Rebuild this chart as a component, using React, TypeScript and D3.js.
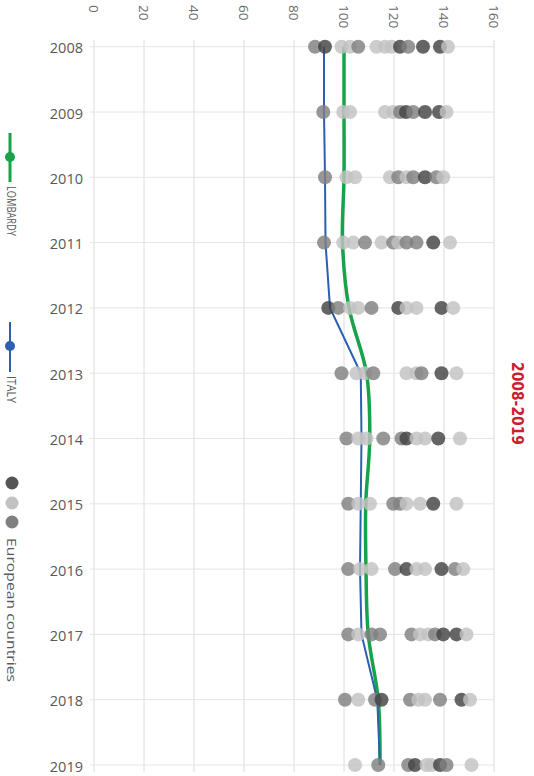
import React from "react";
import * as d3 from "d3";

const years = [2008, 2009, 2010, 2011, 2012, 2013, 2014, 2015, 2016, 2017, 2018, 2019];
const xTicks = [0, 20, 40, 60, 80, 100, 120, 140, 160];
const lombardy = [100, 100, 100, 99.4, 102, 109, 110.3, 108.7, 108.8, 109.7, 113.7, 114.4];
const italy = [92, 92, 92.4, 92.6, 94.4, 106.7, 107, 106.7, 106.4, 107, 113.3, 114.4];

// European countries, per year, split by shade
const europeDark = [
  [92.4, 122.4, 131.6, 138.4],
  [124.8, 132.4, 138],
  [132.4],
  [135.7],
  [93.7, 121.7, 139],
  [139],
  [125, 137.7],
  [135.7],
  [125, 139],
  [139.7, 145],
  [115, 147],
  [128.4, 138.4],
];
const europeMedium = [
  [88.4, 105.7, 125.7],
  [91.7, 122.4, 127.7],
  [92.4, 121.7, 127.7, 137],
  [92, 108.4, 119.7, 125, 129],
  [97.7, 111],
  [99, 111.7, 131],
  [101, 115.7, 123],
  [101.7, 119.7, 122.4],
  [101.7, 120.4, 144.4],
  [101.7, 111, 114.4, 127, 136.4],
  [100.4, 112.4, 126.4, 138.4],
  [113.7, 125.7, 141],
];
const europeLight = [
  [99, 102.4, 113, 116.4, 119, 141.6],
  [99.7, 102.4, 116.4, 119.7, 141],
  [101, 104.4, 118.4, 125, 139.7],
  [99.7, 103.7, 115, 121.7, 142.4],
  [102.4, 105.7, 125, 129, 143.7],
  [105, 108.4, 125, 129, 145],
  [105.7, 109, 129, 132.4, 146.4],
  [105.7, 110.4, 125, 130.4, 145],
  [106.4, 111, 129, 132.4, 147.7],
  [105.7, 130.4, 133.7, 149],
  [105.7, 129.7, 132.4, 150.4],
  [104.4, 133, 135, 151],
];

const DARK = "#434343";
const MEDIUM = "#808080";
const LIGHT = "#c2c2c2";
const GREEN = "#17a34a";
const BLUE = "#2b5fb0";
const FONT = "'Open Sans', sans-serif";

export default function App() {
  const W = 534;
  const H = 776;
  const x = d3.scaleLinear().domain([0, 160]).range([94, 494]);
  const y = d3.scalePoint<number>().domain(years).range([46.7, 765]);

  const lineGreen = d3
    .line<number>()
    .x((d) => x(d))
    .y((_, i) => y(years[i]) as number)
    .curve(d3.curveCatmullRom.alpha(0.5));
  const lineBlue = d3
    .line<number>()
    .x((d) => x(d))
    .y((_, i) => y(years[i]) as number);

  const dots: { v: number; yr: number; c: string; k: string }[] = [];
  years.forEach((yr, i) => {
    europeMedium[i].forEach((v, j) => dots.push({ v, yr, c: MEDIUM, k: `m${i}-${j}` }));
    europeLight[i].forEach((v, j) => dots.push({ v, yr, c: LIGHT, k: `l${i}-${j}` }));
    europeDark[i].forEach((v, j) => dots.push({ v, yr, c: DARK, k: `d${i}-${j}` }));
  });
  dots.sort((a, b) => a.v - b.v);

  return (
    <svg
      width={W}
      height={H}
      style={{ position: "absolute", left: 0, top: 0, background: "#fff" }}
    >
      {xTicks.map((t) => (
        <line key={`vg${t}`} x1={x(t)} x2={x(t)} y1={40} y2={772} stroke="#dcdcdc" strokeWidth={1} />
      ))}
      {years.map((yr) => (
        <line
          key={`hg${yr}`}
          x1={x(0) - 4}
          x2={x(160)}
          y1={y(yr)}
          y2={y(yr)}
          stroke="#e4e4e4"
          strokeWidth={1}
        />
      ))}
      {xTicks.map((t) => (
        <text
          key={`xt${t}`}
          transform={`translate(${x(t)},5) rotate(90)`}
          dominantBaseline="central"
          textAnchor="start"
          fontFamily={FONT}
          fontSize={13.5}
          fill="#6a6a6a"
        >
          {t}
        </text>
      ))}
      {years.map((yr) => (
        <text
          key={`yl${yr}`}
          x={83}
          y={(y(yr) as number) + 1}
          textAnchor="end"
          dominantBaseline="central"
          fontFamily={FONT}
          fontSize={14.5}
          fill="#595959"
        >
          {yr}
        </text>
      ))}
      <path d={lineGreen(lombardy) || ""} fill="none" stroke={GREEN} strokeWidth={3.5} />
      <path d={lineBlue(italy) || ""} fill="none" stroke={BLUE} strokeWidth={2} />
      {dots.map((d) => (
        <circle key={d.k} cx={x(d.v)} cy={y(d.yr)} r={7} fill={d.c} fillOpacity={0.82} />
      ))}
      <text
        transform="translate(517,362) rotate(90)"
        dominantBaseline="central"
        fontFamily="'DejaVu Sans Condensed', 'Liberation Sans Narrow', sans-serif"
        fontWeight="bold"
        fontSize={16}
        fill="#c8202f"
        textLength={83}
        lengthAdjust="spacingAndGlyphs"
      >
        2008-2019
      </text>
      <line x1={10} x2={10} y1={133} y2={182} stroke={GREEN} strokeWidth={3} />
      <circle cx={10} cy={157} r={5} fill={GREEN} />
      <text
        transform="translate(11,186) rotate(90)"
        dominantBaseline="central"
        fontFamily={FONT}
        fontSize={12.5}
        fill="#595959"
        textLength={50}
        lengthAdjust="spacingAndGlyphs"
      >
        LOMBARDY
      </text>
      <line x1={10} x2={10} y1={322} y2={372} stroke={BLUE} strokeWidth={2} />
      <circle cx={10} cy={346} r={5} fill={BLUE} />
      <text
        transform="translate(11,376) rotate(90)"
        dominantBaseline="central"
        fontFamily={FONT}
        fontSize={12.5}
        fill="#595959"
        textLength={27}
        lengthAdjust="spacingAndGlyphs"
      >
        ITALY
      </text>
      <circle cx={12} cy={483} r={6.5} fill={DARK} fillOpacity={0.9} />
      <circle cx={12} cy={503} r={6.5} fill={LIGHT} />
      <circle cx={12} cy={522} r={6.5} fill={MEDIUM} />
      <text
        transform="translate(12,538) rotate(90)"
        dominantBaseline="central"
        fontFamily={FONT}
        fontSize={13}
        fill="#595959"
        textLength={144}
        lengthAdjust="spacingAndGlyphs"
      >
        European countries
      </text>
    </svg>
  );
}
